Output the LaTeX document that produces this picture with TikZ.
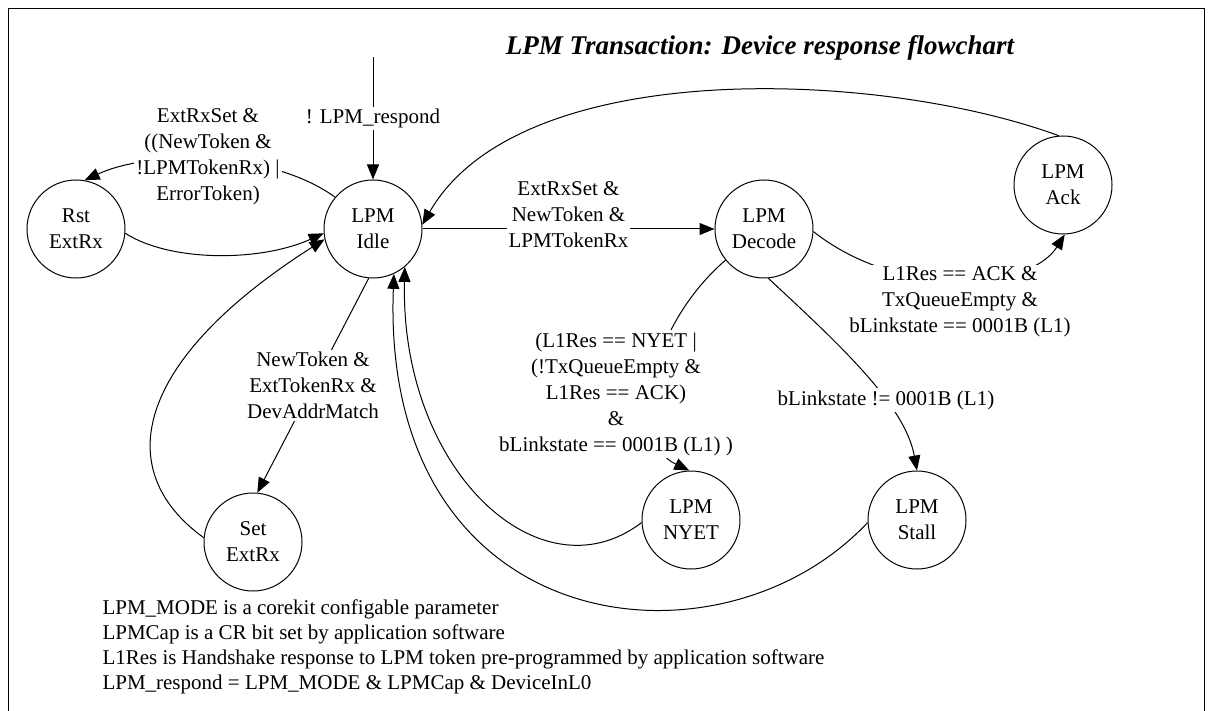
\documentclass[tikz,border=0pt]{standalone}
\usepackage{fontspec}
\setmainfont{Liberation Serif}
\usetikzlibrary{arrows.meta}

\begin{document}
\begin{tikzpicture}[x=0.5pt,y=-0.5pt,line width=0.5pt,>={Triangle[length=7.5pt,width=6pt]},
  state/.style={circle,draw,minimum size=49pt,inner sep=0pt,align=center,font=\fontsize{10.5}{13}\selectfont},
  lbl/.style={fill=white,inner sep=1pt,align=center,font=\fontsize{10.5}{13}\selectfont}]
  \useasboundingbox (0,0) rectangle (1210,711);
  \draw (8,711) -- (8,9) -- (1204,9) -- (1204,711);
  \node[font=\fontsize{13.5}{16}\selectfont\bfseries\itshape] (title) at (760,48) {LPM Transaction: Device response flowchart};
  % states
  \node[state] (rst) at (76,229) {Rst\\ExtRx};
  \node[state] (idle) at (373,229) {LPM\\Idle};
  \node[state] (decode) at (764,229) {LPM\\Decode};
  \node[state] (ack) at (1063,185) {LPM\\Ack};
  \node[state] (set) at (253,542) {Set\\ExtRx};
  \node[state] (nyet) at (691,520) {LPM\\NYET};
  \node[state] (stall) at (917,520) {LPM\\Stall};
  % transitions
  \coordinate (init) at (373,57);
  \draw[->] (init) -- node[lbl]{! LPM\_respond} (idle);
  \draw[->] (idle.140) .. controls (270,150) and (150,150) .. (rst.80)
    node[lbl] at (208,157) {ExtRxSet \&\\((NewToken \&\\!LPMTokenRx) |\\ErrorToken)};
  \draw[->] (rst.-5) .. controls (170,262) and (260,262) .. (idle.185);
  \draw[->] (set.175) .. controls (110,470) and (135,360) .. (idle.192);
  \draw[->] (idle.-95) -- node[lbl]{NewToken \&\\ExtTokenRx \&\\DevAddrMatch} (set.85);
  \draw[->] (idle) -- node[lbl,yshift=7pt]{ExtRxSet \&\\NewToken \&\\LPMTokenRx} (decode);
  \draw[->] (ack.95) .. controls (880,70) and (520,55) .. (idle.5);
  \draw[->] (decode.-3) .. controls (900,300) and (1030,290) .. (ack.-88)
    node[lbl] at (960,302) {L1Res == ACK \&\\TxQueueEmpty \&\\bLinkstate == 0001B (L1)};
  \draw[->] (decode.-141) .. controls (650,325) and (625,440) .. (nyet.92)
    node[lbl] at (616,394) {(L1Res == NYET |\\(!TxQueueEmpty \&\\L1Res == ACK)\\\&\\bLinkstate == 0001B (L1) )};
  \draw[->] (decode.-85) .. controls (840,345) and (905,405) .. (stall.90)
    node[lbl] at (886,400) {bLinkstate != 0001B (L1)};
  \draw[->] (nyet.183) .. controls (540,600) and (400,470) .. (idle.-50);
  \draw[->] (stall.183) .. controls (720,680) and (380,640) .. (idle.-65);
  % notes
  \node[anchor=west,align=left,inner sep=0pt,font=\fontsize{10.5}{12.5}\selectfont] (notes) at (102,647) {LPM\_MODE is a corekit configable parameter\\
    LPMCap is a CR bit set by application software\\
    L1Res is Handshake response to LPM token pre-programmed by application software\\
    LPM\_respond = LPM\_MODE \& LPMCap \& DeviceInL0};
\end{tikzpicture}
\end{document}
